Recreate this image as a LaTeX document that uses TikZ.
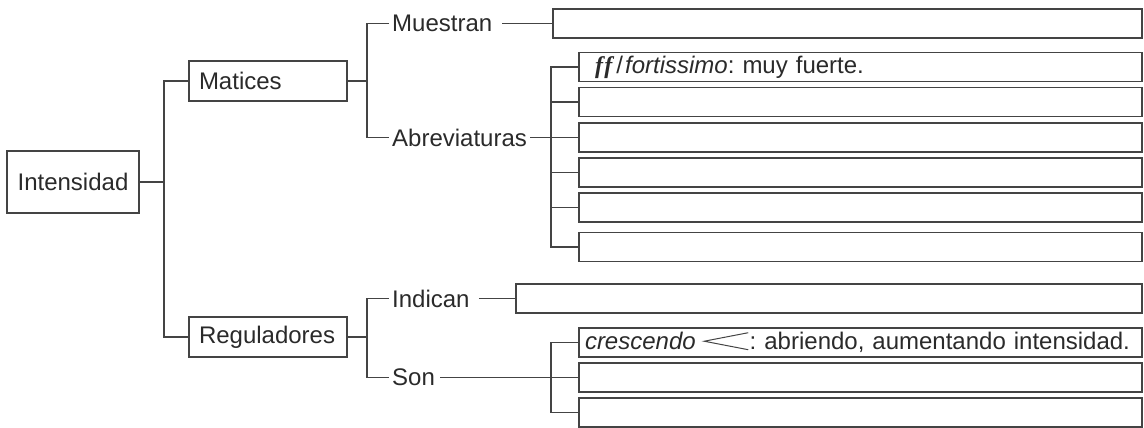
\documentclass[tikz,border=0pt]{standalone}
\usepackage{fontspec}
\setmainfont{Liberation Sans}
\newfontfamily\ffserif{Liberation Serif}
\definecolor{ln}{HTML}{444444}
\definecolor{tx}{HTML}{2A2A2A}
\frenchspacing
\begin{document}
\begin{tikzpicture}[x=1pt,y=-1pt,
  txt/.style={text=tx, font=\fontsize{24}{28}\selectfont\frenchspacing},
  box/.style={txt, draw=ln, line width=1.3pt, minimum height=29pt, inner sep=0pt},
  tbox/.style={box, align=left},
  lab/.style={txt, inner xsep=3pt, inner ysep=0pt, anchor=west},
  conn/.style={draw=ln, line width=1.3pt}]
\useasboundingbox (0,0) rectangle (1144,428);

% main boxes
\node[box, minimum width=132pt, minimum height=62pt] (int) at (73,182) {Intensidad};
\node[tbox, minimum height=40pt, text width=138pt, inner xsep=10pt] (mat) at (268,81) {Matices};
\node[tbox, minimum height=40pt, text width=138pt, inner xsep=10pt] (reg) at (268,337) {Reguladores};

% labels
\node[lab] (mue) at (389,23.5) {Muestran};
\node[lab] (abr) at (389,137.5) {Abreviaturas};
\node[lab] (ind) at (389,298.5) {Indican};
\node[lab] (son) at (389,377.5) {Son};

% answer boxes
\node[box, minimum width=589pt] (mbox) at (847.5,23.5) {};
\node[tbox, text width=531pt, inner xsep=16pt] (a1) at (860.5,67)
  {{\ffserif\bfseries\itshape f\kern1.5pt f}\kern4pt/\kern2pt\textit{fortissimo}: muy fuerte.};
\node[box, minimum width=563pt] (a2) at (860.5,102) {};
\node[box, minimum width=563pt] (a3) at (860.5,137.5) {};
\node[box, minimum width=563pt] (a4) at (860.5,172.5) {};
\node[box, minimum width=563pt] (a5) at (860.5,207.5) {};
\node[box, minimum width=563pt] (a6) at (860.5,247) {};
\node[box, minimum width=626pt] (ibox) at (829,298.5) {};
\node[tbox, text width=551pt, inner xsep=6pt] (c1) at (860.5,342.5)
  {\textit{crescendo} \tikz[baseline=0pt]\draw[ln, line width=1pt] (44pt,17pt) -- (0pt,8.5pt) -- (44pt,0pt);\kern1pt: abriendo, aumentando intensidad.};
\node[box, minimum width=563pt] (c2) at (860.5,377.5) {};
\node[box, minimum width=563pt] (c3) at (860.5,412.5) {};

% connectors
\coordinate (j1) at (164,182);
\draw[conn] (int.east) -- (j1);
\draw[conn] (mat.west) -| (j1 |- reg.west) -- (reg.west);

\coordinate (j2) at (367,81);
\draw[conn] (mat.east) -- (j2);
\draw[conn] (mue.west) -| (j2 |- abr.west) -- (abr.west);
\draw[conn, shorten <=7pt] (mue.east) -- (mbox.west);
\draw[conn] (abr.east) -- (a3.west);
\coordinate (j3) at (551,137.5);
\draw[conn] (a1.west) -| (j3 |- a6.west) -- (a6.west);
\foreach \n in {a2,a4,a5} \draw[conn] (j3 |- \n.west) -- (\n.west);

\coordinate (j4) at (367,337);
\draw[conn] (reg.east) -- (j4);
\draw[conn] (ind.west) -| (j4 |- son.west) -- (son.west);
\draw[conn, shorten <=6pt] (ind.east) -- (ibox.west);
\draw[conn, shorten <=2pt] (son.east) -- (c2.west);
\coordinate (j5) at (551,377.5);
\draw[conn] (c1.west) -| (j5 |- c3.west) -- (c3.west);
\end{tikzpicture}
\end{document}
